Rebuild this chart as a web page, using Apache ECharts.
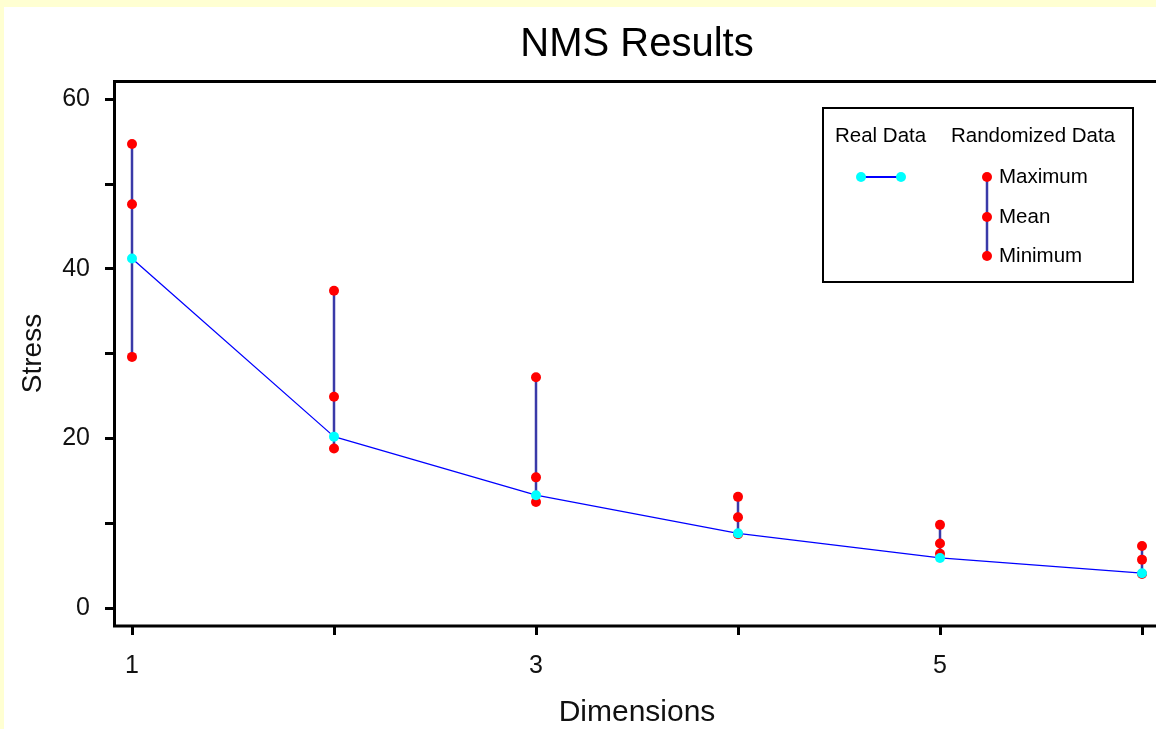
<!DOCTYPE html>
<html>
<head>
<meta charset="utf-8">
<script src="https://cdn.jsdelivr.net/npm/echarts@6/dist/echarts.min.js"></script>
<style>
html,body{margin:0;padding:0;background:#FFFFD2;width:1156px;height:729px;overflow:hidden;}
#bg{position:absolute;left:4px;top:7px;width:1160px;height:730px;background:#fff;}
#c{position:absolute;left:0;top:0;width:1156px;height:729px;}
</style>
</head>
<body>
<div id="bg"></div>
<div id="c"></div>
<script>
const dims = [1, 2, 3, 4, 5, 6];
const realStress = [41.2, 20.2, 13.3, 8.8, 5.9, 4.1];
const randMax = [54.7, 37.4, 27.2, 13.1, 9.8, 7.3];
const randMean = [47.6, 24.9, 15.4, 10.7, 7.6, 5.7];
const randMin = [29.6, 18.8, 12.5, 8.7, 6.4, 4.0];
const xTickLabels = [1, 3, 5];
const yTickLabels = [0, 20, 40, 60];

const FONT = '"Liberation Sans", Arial, sans-serif';
const RED = '#FF0000', CYAN = '#00FFFF', BLUE = '#0000FF', RANGE = '#3A3AA8';

const chart = echarts.init(document.getElementById('c'), null, {renderer: 'canvas'});
const pair = (ys) => dims.map((d, i) => [d, ys[i]]);
const dot = {color: RED, opacity: 1, borderWidth: 0};

chart.setOption({
  backgroundColor: 'transparent',
  animation: false,
  grid: {left: 132, right: 14, top: 99, bottom: 121, containLabel: false, outerBoundsMode: 'none'},
  xAxis: {
    type: 'value', min: 1, max: 6, interval: 1, offset: 18,
    axisLine: {show: false, onZero: false},
    axisTick: {show: true, length: 9, lineStyle: {color: '#000', width: 3}},
    splitLine: {show: false},
    axisLabel: {
      margin: 28, color: '#111', fontFamily: FONT, fontSize: 25,
      formatter: v => xTickLabels.includes(v) ? String(v) : ''
    },
    name: 'Dimensions', nameLocation: 'middle', nameGap: 72,
    nameTextStyle: {fontFamily: FONT, fontSize: 30, color: '#111'}
  },
  yAxis: {
    type: 'value', min: 0, max: 60, interval: 10, offset: 18,
    axisLine: {show: false, onZero: false},
    axisTick: {show: true, length: 9, lineStyle: {color: '#000', width: 3}},
    splitLine: {show: false},
    axisLabel: {
      margin: 24, color: '#111', fontFamily: FONT, fontSize: 25,
      formatter: v => yTickLabels.includes(v) ? String(v) : ''
    },
    name: 'Stress', nameLocation: 'middle', nameGap: 67, nameRotate: 90,
    nameTextStyle: {fontFamily: FONT, fontSize: 28, color: '#111'}
  },
  series: [
    {
      type: 'custom', z: 2,
      data: dims.map((d, i) => [d, randMin[i], randMax[i]]),
      renderItem: (params, api) => {
        const p1 = api.coord([api.value(0), api.value(1)]);
        const p2 = api.coord([api.value(0), api.value(2)]);
        return {type: 'line', shape: {x1: p1[0], y1: p1[1], x2: p2[0], y2: p2[1]},
                style: {stroke: RANGE, lineWidth: 2.5}};
      }
    },
    {type: 'scatter', z: 3, data: pair(randMax), symbol: 'circle', symbolSize: 10, itemStyle: dot},
    {type: 'scatter', z: 3, data: pair(randMean), symbol: 'circle', symbolSize: 10, itemStyle: dot},
    {type: 'scatter', z: 3, data: pair(randMin), symbol: 'circle', symbolSize: 10, itemStyle: dot},
    {
      type: 'line', z: 5, data: pair(realStress), symbol: 'circle', symbolSize: 10, showSymbol: true,
      lineStyle: {color: BLUE, width: 1.3, opacity: 1}, itemStyle: {color: CYAN, borderWidth: 0, opacity: 1}
    }
  ],
  graphic: [
    {type: 'rect', z: 10, shape: {x: 114.5, y: 81.5, width: 1100, height: 544.5},
     style: {fill: 'none', stroke: '#000', lineWidth: 3}},
    {type: 'text', z: 10, style: {text: 'NMS Results', x: 637, y: 45, textAlign: 'center', textVerticalAlign: 'middle',
      font: '40px ' + FONT, fill: '#000'}},
    {type: 'rect', z: 10, shape: {x: 823, y: 108, width: 310, height: 174},
     style: {fill: '#fff', stroke: '#000', lineWidth: 2}},
    {type: 'text', z: 11, style: {text: 'Real Data', x: 835, y: 136, textVerticalAlign: 'middle', font: '20.5px ' + FONT, fill: '#000'}},
    {type: 'text', z: 11, style: {text: 'Randomized Data', x: 951, y: 136, textVerticalAlign: 'middle', font: '20.5px ' + FONT, fill: '#000'}},
    {type: 'line', z: 11, shape: {x1: 861, y1: 177, x2: 901, y2: 177}, style: {stroke: BLUE, lineWidth: 2}},
    {type: 'circle', z: 12, shape: {cx: 861, cy: 177, r: 5}, style: {fill: CYAN}},
    {type: 'circle', z: 12, shape: {cx: 901, cy: 177, r: 5}, style: {fill: CYAN}},
    {type: 'line', z: 11, shape: {x1: 987, y1: 177, x2: 987, y2: 256}, style: {stroke: RANGE, lineWidth: 2.5}},
    {type: 'circle', z: 12, shape: {cx: 987, cy: 177, r: 5}, style: {fill: RED}},
    {type: 'circle', z: 12, shape: {cx: 987, cy: 217, r: 5}, style: {fill: RED}},
    {type: 'circle', z: 12, shape: {cx: 987, cy: 256, r: 5}, style: {fill: RED}},
    {type: 'text', z: 11, style: {text: 'Maximum', x: 999, y: 177, textVerticalAlign: 'middle', font: '20.5px ' + FONT, fill: '#000'}},
    {type: 'text', z: 11, style: {text: 'Mean', x: 999, y: 217, textVerticalAlign: 'middle', font: '20.5px ' + FONT, fill: '#000'}},
    {type: 'text', z: 11, style: {text: 'Minimum', x: 999, y: 256, textVerticalAlign: 'middle', font: '20.5px ' + FONT, fill: '#000'}}
  ]
});
</script>
</body>
</html>
